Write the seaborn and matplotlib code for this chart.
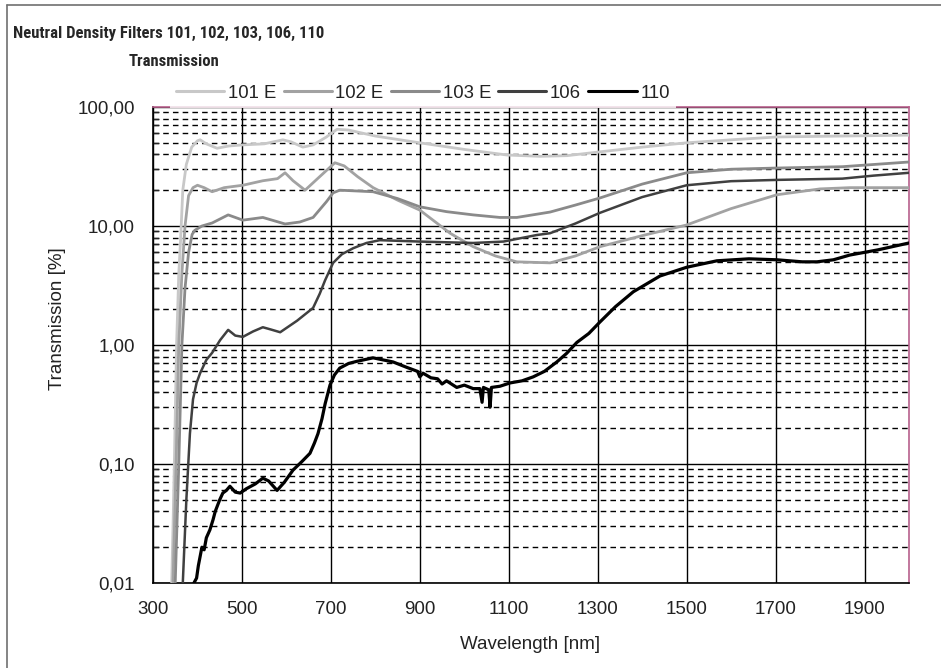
import numpy as np
import pandas as pd
import seaborn as sns
import matplotlib.pyplot as plt
import matplotlib.ticker as mticker
from matplotlib import font_manager as fm
from matplotlib.lines import Line2D

sns.set_style("white")
plt.rcParams['font.family'] = ['Liberation Sans', 'DejaVu Sans']

# ---- data (wavelength nm, transmission %) ----
wl_101 = [336, 342, 345, 348, 353, 358, 362, 367, 375, 387, 400, 406, 420, 444, 470, 500, 550, 592,
          610, 637, 660, 690, 714, 740, 800, 900, 1000, 1096, 1170, 1231, 1305, 1400, 1500, 1600,
          1703, 1850, 2000]
tr_101 = [0.005, 0.01, 0.03, 0.1, 1.0, 4.0, 7.6, 20, 33, 46, 52, 53, 49, 45, 47, 48, 49, 53,
          51, 46, 48, 56, 65, 64, 57, 50, 44, 39.5, 38.5, 39, 42, 46, 50, 53,
          56, 57, 58]

wl_102 = [340, 345, 352, 358, 365, 372, 380, 390, 400, 415, 433, 460, 502, 547, 580, 597, 615, 642,
          670, 709, 730, 760, 795, 850, 900, 968, 1020, 1070, 1118, 1193, 1250, 1305, 1400, 1500,
          1600, 1703, 1800, 1867, 2000]
tr_102 = [0.005, 0.01, 0.1, 1.0, 4.0, 10, 18, 21, 22, 21, 19.4, 21, 22, 24, 25, 28, 24, 20,
          25, 34, 32, 26, 21, 16.5, 13.6, 8.7, 6.7, 5.6, 5.0, 4.9, 5.6, 6.7, 8.3, 10.2,
          14, 18.3, 20.5, 21, 21]

wl_103 = [345, 350, 358, 365, 372, 380, 388, 394, 410, 433, 469, 502, 547, 597, 630, 660, 690, 705,
          720, 795, 850, 900, 960, 1020, 1080, 1118, 1193, 1250, 1305, 1400, 1500, 1600, 1703,
          1850, 2000]
tr_103 = [0.005, 0.01, 0.1, 1.0, 3.0, 6.0, 8.5, 9.2, 10, 10.6, 12.4, 11.2, 11.8, 10.4, 10.8, 11.8, 16, 19,
          20, 19.4, 17, 14.5, 13.2, 12.4, 11.8, 11.8, 13.1, 15, 17.2, 22.5, 28, 30, 30.7,
          31.5, 34.5]

wl_106 = [362, 367, 375, 383, 390, 398, 406, 420, 433, 451, 469, 485, 502, 525, 547, 565, 586, 624,
          660, 675, 687, 705, 725, 750, 780, 810, 900, 1020, 1088, 1163, 1193, 1250, 1305, 1400,
          1500, 1600, 1703, 1850, 1920, 2000]
tr_106 = [0.005, 0.01, 0.05, 0.18, 0.35, 0.48, 0.58, 0.75, 0.86, 1.1, 1.34, 1.2, 1.17, 1.3, 1.41, 1.35, 1.28, 1.6,
          2.05, 2.7, 3.5, 4.9, 5.8, 6.5, 7.2, 7.6, 7.4, 7.2, 7.4, 8.4, 8.7, 10.5, 12.9, 17.5,
          22, 23.8, 24.4, 25, 26.5, 28]

wl_110 = [388, 392, 398, 402, 405, 410, 415, 420, 428, 435, 440, 450, 457, 465, 473, 485, 496, 510,
          530, 547, 560, 579, 595, 615, 635, 653, 663, 671, 680, 687, 698, 708, 720, 740, 759, 795,
          840, 870, 895, 900, 907, 925, 940, 950, 960, 983, 1000, 1020, 1035, 1040, 1043, 1055, 1058,
          1061, 1080, 1103, 1130, 1155, 1180, 1208, 1230, 1253, 1280, 1305, 1340, 1380, 1440, 1500,
          1568, 1640, 1703, 1760, 1793, 1830, 1867, 1930, 2000]
tr_110 = [0.005, 0.01, 0.011, 0.014, 0.016, 0.02, 0.019, 0.024, 0.028, 0.034, 0.04, 0.05, 0.057, 0.06, 0.065, 0.058, 0.057, 0.062,
          0.068, 0.076, 0.072, 0.06, 0.07, 0.089, 0.105, 0.123, 0.15, 0.18, 0.24, 0.32, 0.46, 0.56, 0.64, 0.7, 0.73, 0.78,
          0.72, 0.65, 0.6, 0.54, 0.58, 0.53, 0.52, 0.47, 0.5, 0.44, 0.46, 0.43, 0.43, 0.33, 0.44, 0.42, 0.30,
          0.44, 0.45, 0.48, 0.5, 0.54, 0.6, 0.72, 0.85, 1.05, 1.25, 1.56, 2.1, 2.8, 3.8, 4.5,
          5.1, 5.3, 5.2, 5.0, 5.0, 5.2, 5.7, 6.3, 7.2]

names = ['101 E', '102 E', '103 E', '106', '110']
colors = ['#c8c8c8', '#a2a2a2', '#8a8a8a', '#404040', '#000000']
widths = [2.0, 2.0, 2.0, 1.8, 2.3]
series = [(wl_101, tr_101), (wl_102, tr_102), (wl_103, tr_103), (wl_106, tr_106), (wl_110, tr_110)]

df = pd.concat([pd.DataFrame({'wl': w, 'T': t, 'filter': n})
                for n, (w, t) in zip(names, series)], ignore_index=True)

fig = plt.figure(figsize=(9.41, 6.68), dpi=100)
ax = fig.add_axes([153/941, 1-583/668, (909-153)/941, (583-107)/668])

for n, c, lw in zip(names, colors, widths):
    sns.lineplot(data=df[df['filter'] == n], x='wl', y='T', color=c, linewidth=lw,
                 estimator=None, sort=False, ax=ax, zorder=3)

ax.set_yscale('log')
ax.set_xlim(300, 2000)
ax.set_ylim(0.01, 100)

ax.set_xticks(np.arange(300, 2000, 200))
ax.set_yticks([0.01, 0.1, 1, 10, 100])
ax.yaxis.set_major_formatter(mticker.FixedFormatter(['0,01', '0,10', '1,00', '10,00', '100,00']))
ax.yaxis.set_minor_locator(mticker.LogLocator(base=10, subs=np.arange(2, 10)))
ax.yaxis.set_minor_formatter(mticker.NullFormatter())

ax.grid(which='major', axis='both', color='black', linewidth=1.0, linestyle='-')
ax.grid(which='minor', axis='y', color='black', linewidth=1.0, linestyle=(0, (4, 3)))
ax.set_axisbelow(True)

ax.tick_params(axis='both', which='major', direction='inout', length=10, width=1,
               color='black', labelsize=13.5, labelcolor='#222222')
ax.tick_params(axis='y', which='minor', direction='in', length=4, width=1, left=True)
ax.tick_params(axis='x', pad=8)
ax.tick_params(axis='y', pad=8)

for s in ['left', 'bottom']:
    ax.spines[s].set_color('black')
    ax.spines[s].set_linewidth(1.2)
for s in ['top', 'right']:
    ax.spines[s].set_color('#b8608c')
    ax.spines[s].set_linewidth(1.2)

ax.set_xlabel('Wavelength [nm]', fontsize=13.5, color='#222222')
ax.set_ylabel('Transmission [%]', fontsize=13.5, color='#222222')
ax.xaxis.set_label_coords(0.4987, -0.112)
ax.yaxis.set_label_coords(-0.115, 0.555)

# legend above the plot, hiding part of the top border
handles = [Line2D([], [], color=c, linewidth=2.2) for c in colors]
leg = fig.legend(handles, names, loc='center', bbox_to_anchor=(423/941, 1-93/668), ncol=5,
                 frameon=True, fontsize=13.3, handlelength=2.6, handletextpad=0.2,
                 columnspacing=0.4, borderpad=0.35, borderaxespad=0)
leg.get_frame().set_facecolor('white')
leg.get_frame().set_edgecolor('none')
leg.get_frame().set_boxstyle('square', pad=0)
for t in leg.get_texts():
    t.set_color('#222222')

# narrow bold font for the title if one is installed
names_avail = {f.name for f in fm.fontManager.ttflist}
tfam, tsize = 'Liberation Sans', 11
for cand in ['Liberation Sans Narrow', 'Roboto Condensed', 'Open Sans Condensed', 'Noto Sans Condensed']:
    if cand in names_avail:
        tfam, tsize = cand, 12
        break
fig.text(13/941, 1-33/668, 'Neutral Density Filters 101, 102, 103, 106, 110', family=tfam,
         fontsize=tsize, fontweight='bold', ha='left', va='center')
fig.text(174/941, 1-62/668, 'Transmission', family=tfam, fontsize=tsize, fontweight='bold',
         ha='center', va='center')

# outer chart frame (left and top edges only are visible)
fig.add_artist(Line2D([7/941, 7/941], [0, 1-5/668], color='#707070', linewidth=1.2))
fig.add_artist(Line2D([7/941, 1], [1-5/668, 1-5/668], color='#707070', linewidth=1.2))

fig.savefig('out.png', dpi=100)
